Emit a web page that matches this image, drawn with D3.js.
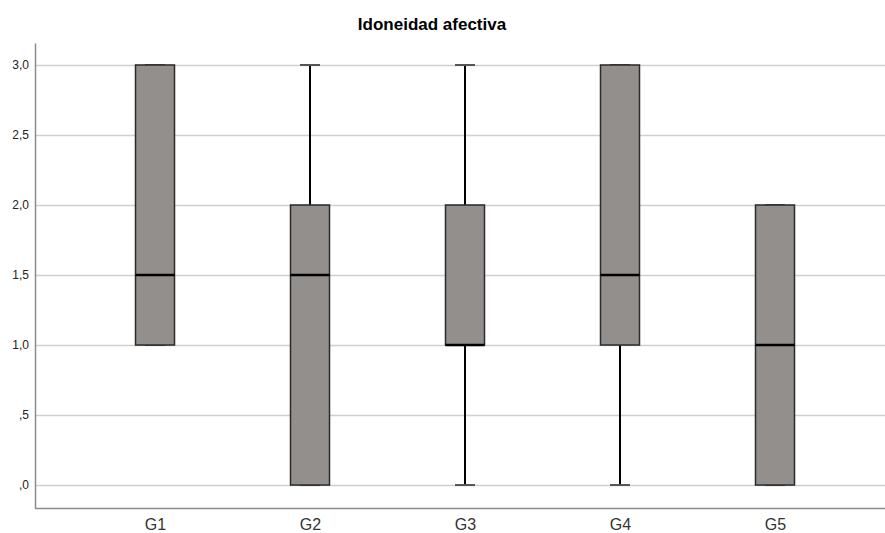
<!DOCTYPE html>
<html>
<head>
<meta charset="utf-8">
<script src="https://cdn.jsdelivr.net/npm/d3@7"></script>
<style>
  html, body { margin: 0; padding: 0; background: #fff; }
  svg { display: block; font-family: "Liberation Sans", Arial, sans-serif; }
</style>
</head>
<body>
<svg id="chart" width="885" height="533"></svg>
<script>
// Group labels and five-number summaries
const groups = ["G1", "G2", "G3", "G4", "G5"];
const mins    = [1, 0, 0, 0, 0];
const q1s     = [1, 0, 1, 1, 0];
const medians = [1.5, 1.5, 1, 1.5, 1];
const q3s     = [3, 2, 2, 3, 2];
const maxs    = [3, 3, 3, 3, 2];
const yTicks = [0, 0.5, 1, 1.5, 2, 2.5, 3];
const yTickLabels = [",0", ",5", "1,0", "1,5", "2,0", "2,5", "3,0"];

const rows = groups.map((g, i) => ({
  g, min: mins[i], q1: q1s[i], med: medians[i], q3: q3s[i], max: maxs[i]
}));

const svg = d3.select("#chart");
const plotLeft = 35, plotRight = 885, plotTop = 43, plotBottom = 508;

const y = d3.scaleLinear().domain([-0.164, 3.157]).range([plotBottom, plotTop]);
const x = d3.scalePoint().domain(groups).range([155, 775]);

const boxW = 39, capW = 20;

// Title
svg.append("text")
  .attr("x", 432).attr("y", 30)
  .attr("text-anchor", "middle")
  .attr("font-size", 17).attr("font-weight", "bold")
  .attr("fill", "#000")
  .text("Idoneidad afectiva");

// Horizontal gridlines
svg.append("g").selectAll("line").data(yTicks).join("line")
  .attr("x1", plotLeft).attr("x2", plotRight)
  .attr("y1", d => y(d) + 0.5).attr("y2", d => y(d) + 0.5)
  .attr("stroke", "#cfcfcf").attr("stroke-width", 1.5);

// Y axis
const yAxis = d3.axisLeft(y).tickValues(yTicks)
  .tickFormat((d, i) => yTickLabels[i]).tickSize(0).tickPadding(6);
const gy = svg.append("g").attr("transform", `translate(${plotLeft},0)`).call(yAxis);
gy.select(".domain").attr("stroke", "#8c8c8c").attr("stroke-width", 1.5);
gy.selectAll("text").attr("font-size", 12).attr("fill", "#222")
  .attr("font-family", "Liberation Sans, Arial, sans-serif");

// X axis
const xAxis = d3.axisBottom(x).tickSize(0).tickPadding(11);
const gx = svg.append("g").attr("transform", `translate(0,${plotBottom})`).call(xAxis);
gx.select(".domain").attr("d", `M${plotLeft},0.5H${plotRight}`)
  .attr("stroke", "#8c8c8c").attr("stroke-width", 1.5);
gx.selectAll("text").attr("font-size", 16).attr("fill", "#333")
  .attr("font-family", "Liberation Sans, Arial, sans-serif");

// Boxes
const b = svg.append("g").selectAll("g").data(rows).join("g");

// whiskers
b.filter(d => d.max > d.q3).append("line")
  .attr("x1", d => x(d.g)).attr("x2", d => x(d.g))
  .attr("y1", d => y(d.q3)).attr("y2", d => y(d.max))
  .attr("stroke", "#000").attr("stroke-width", 2);
b.filter(d => d.min < d.q1).append("line")
  .attr("x1", d => x(d.g)).attr("x2", d => x(d.g))
  .attr("y1", d => y(d.q1)).attr("y2", d => y(d.min))
  .attr("stroke", "#000").attr("stroke-width", 2);

// caps
b.append("line")
  .attr("x1", d => x(d.g) - capW / 2).attr("x2", d => x(d.g) + capW / 2)
  .attr("y1", d => y(d.max)).attr("y2", d => y(d.max))
  .attr("stroke", "#555").attr("stroke-width", 2);
b.append("line")
  .attr("x1", d => x(d.g) - capW / 2).attr("x2", d => x(d.g) + capW / 2)
  .attr("y1", d => y(d.min)).attr("y2", d => y(d.min))
  .attr("stroke", "#555").attr("stroke-width", 2);

// box body
b.append("rect")
  .attr("x", d => x(d.g) - boxW / 2)
  .attr("y", d => y(d.q3))
  .attr("width", boxW)
  .attr("height", d => y(d.q1) - y(d.q3))
  .attr("fill", "#938f8d")
  .attr("stroke", "#2a2a2a").attr("stroke-width", 1.5);

// median
b.append("line")
  .attr("x1", d => x(d.g) - boxW / 2).attr("x2", d => x(d.g) + boxW / 2)
  .attr("y1", d => y(d.med)).attr("y2", d => y(d.med))
  .attr("stroke", "#000").attr("stroke-width", 2.5);
</script>
</body>
</html>
